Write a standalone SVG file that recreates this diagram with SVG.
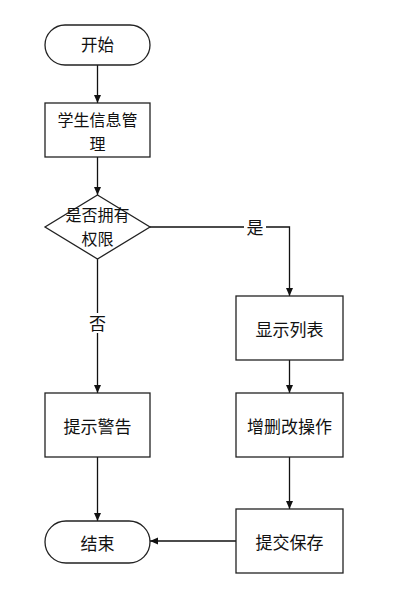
<svg xmlns="http://www.w3.org/2000/svg" width="409" height="605" viewBox="0 0 409 605">
<style>
.s{fill:#fff;stroke:#222;stroke-width:1.3}
.t{font-family:"Noto Sans CJK SC","Liberation Sans",sans-serif;font-size:17px;fill:#111;text-anchor:middle;dominant-baseline:central}
.m{font-size:16px}
.c{fill:none;stroke:#111;stroke-width:1.3}
</style>
<defs>
<marker id="a" markerWidth="10" markerHeight="10" refX="9" refY="5" orient="auto" markerUnits="userSpaceOnUse">
<path d="M1,1.5 L9,5 L1,8.5 Z" fill="#111"/>
</marker>
</defs>
<rect width="409" height="605" fill="#fff"/>
<g id="connectors">
<line class="c" x1="97.5" y1="65" x2="97.5" y2="103" marker-end="url(#a)"/>
<line class="c" x1="97.5" y1="157" x2="97.5" y2="195" marker-end="url(#a)"/>
<polyline class="c" points="150,227 289.5,227 289.5,296" marker-end="url(#a)"/>
<line class="c" x1="97.5" y1="259" x2="97.5" y2="393" marker-end="url(#a)"/>
<line class="c" x1="289.5" y1="360" x2="289.5" y2="393" marker-end="url(#a)"/>
<line class="c" x1="289.5" y1="457" x2="289.5" y2="509" marker-end="url(#a)"/>
<line class="c" x1="97.5" y1="457" x2="97.5" y2="521" marker-end="url(#a)"/>
<line class="c" x1="236" y1="541" x2="150" y2="541" marker-end="url(#a)"/>
<rect x="244" y="217" width="22" height="20" fill="#fff"/>
<text class="t" x="255" y="226">是</text>
<rect x="86" y="313" width="22" height="20" fill="#fff"/>
<text class="t" x="97.5" y="322">否</text>
</g>
<g id="start">
<rect class="s" x="45" y="25" width="105" height="40" rx="20"/>
<text class="t" x="97.5" y="44" style="font-size:16.5px">开始</text>
</g>
<g id="manage">
<rect class="s" x="45" y="103" width="105" height="54"/>
<text class="t m" x="97.5" y="119">学生信息管</text>
<text class="t m" x="97.5" y="143">理</text>
</g>
<g id="decision">
<polygon class="s" points="97.5,195 150,227 97.5,259 45,227"/>
<text class="t m" x="97.5" y="214">是否拥有</text>
<text class="t m" x="97.5" y="238">权限</text>
</g>
<g id="list">
<rect class="s" x="236" y="296" width="107" height="64"/>
<text class="t" x="289.5" y="328">显示列表</text>
</g>
<g id="crud">
<rect class="s" x="236" y="393" width="107" height="64"/>
<text class="t" x="289.5" y="425">增删改操作</text>
</g>
<g id="save">
<rect class="s" x="236" y="509" width="107" height="64"/>
<text class="t" x="289.5" y="541">提交保存</text>
</g>
<g id="warn">
<rect class="s" x="45" y="393" width="105" height="64"/>
<text class="t" x="97.5" y="425">提示警告</text>
</g>
<g id="end">
<rect class="s" x="45" y="521" width="105" height="42" rx="21"/>
<text class="t" x="97.5" y="542">结束</text>
</g>
</svg>
